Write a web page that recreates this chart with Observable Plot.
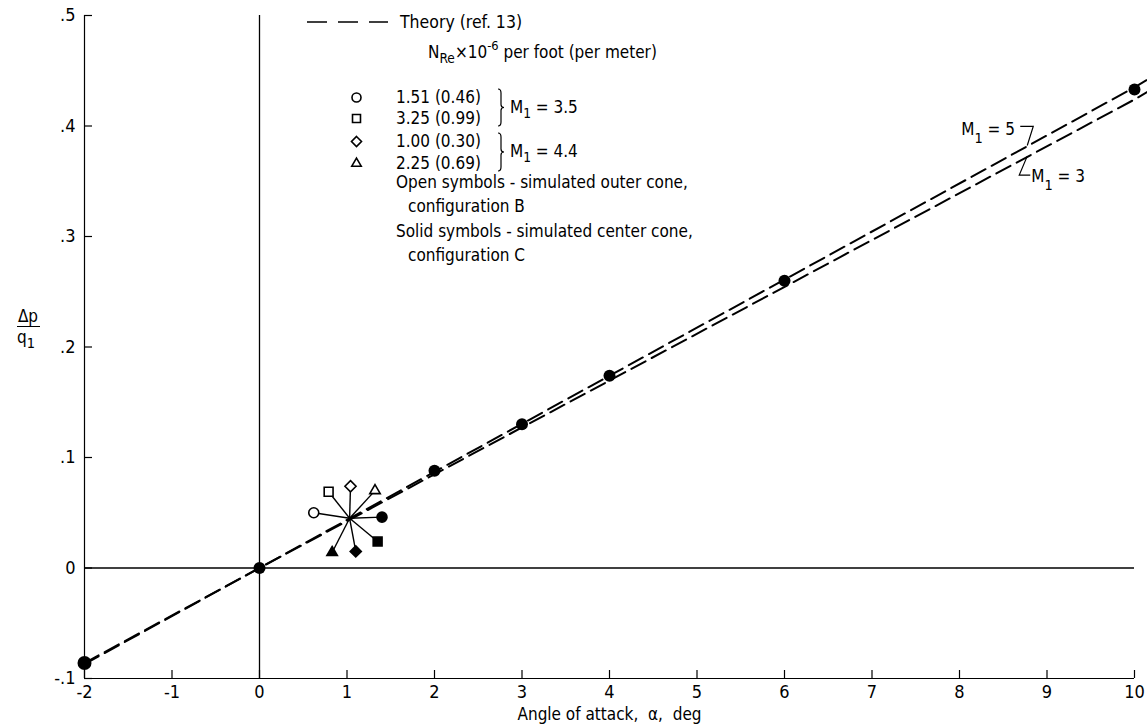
<!DOCTYPE html>
<html><head><meta charset="utf-8">
<script src="https://cdn.jsdelivr.net/npm/d3@7"></script>
<script src="https://cdn.jsdelivr.net/npm/@observablehq/plot@0.6"></script>
<style>
html,body{margin:0;padding:0;background:#fff;}
svg text{white-space:pre;}
</style></head><body><div id="chart"></div>
<script>
const FONT = '"Liberation Sans Narrow","DejaVu Sans Condensed","Roboto Condensed","Liberation Sans",sans-serif';

// axis ticks
const xTicks = [-2,-1,0,1,2,3,4,5,6,7,8,9,10];
const yTicks = [-0.1,0,0.1,0.2,0.3,0.4,0.5];

// solid symbols lying on the theory line
const alphaSolid = [-2,0,2,3,4,6,10];
const dpSolid = [-0.086,0,0.088,0.130,0.174,0.260,0.433];

// theory (ref. 13) curves
const thAlpha = [-2,0,10,10.15];
const thM5 = [-0.087,0,0.435,0.442];
const thM3 = [-0.086,0,0.424,0.431];

// flagged symbols at alpha = 1 deg
const clusterCenterAlpha = 1.03;
const clusterCenterDp = 0.045;
const clusterShape = ["circle","square","diamond2","triangle2","circle","square","diamond2","triangle2"];
const clusterFilled = [false,false,false,false,true,true,true,true];
const clusterAlpha = [0.62,0.79,1.04,1.32,1.40,1.35,1.10,0.83];
const clusterDp = [0.050,0.069,0.074,0.070,0.046,0.024,0.015,0.014];

// legend
const legendShapes = ["circle","square","diamond2","triangle2"];
const legendRe = ["1.51 (0.46)","3.25 (0.99)","1.00 (0.30)","2.25 (0.69)"];
const legendMach = ["3.5","4.4"];

const W = 1147, H = 728, ML = 84, MR = 13, MT = 15, MB = 50;
const PW = W - ML - MR, PH = H - MT - MB;

const solid = alphaSolid.map((a,i)=>({a, v: dpSolid[i]}));
const th5 = thAlpha.map((a,i)=>({a, v: thM5[i]}));
const th3 = thAlpha.map((a,i)=>({a, v: thM3[i]}));
const cluster = clusterAlpha.map((a,i)=>({a, v: clusterDp[i], shape: clusterShape[i], filled: clusterFilled[i]}));

const fmtY = d => d === 0 ? "0" : (d < 0 ? "-" : "") + Math.abs(d).toFixed(1).slice(1);

function interp(xs, ys, x){
  for (let i=0;i<xs.length-1;i++){
    if (x>=xs[i] && x<=xs[i+1]) return ys[i] + (ys[i+1]-ys[i])*(x-xs[i])/(xs[i+1]-xs[i]);
  }
  return ys[ys.length-1];
}

function addText(g, x, y, parts, size=17, anchor="start"){
  const t = g.append("text").attr("x", x).attr("y", y).attr("font-size", size).attr("text-anchor", anchor).attr("fill","black");
  let cur = 0;
  for (const p of parts){
    const [s, shift=0, f=1] = Array.isArray(p) ? p : [p];
    t.append("tspan").attr("dy", shift - cur).attr("font-size", size*f).text(s);
    cur = shift;
  }
  return t;
}

function brace(g, x, y0, y1){
  const ym = (y0+y1)/2;
  g.append("path").attr("fill","none").attr("stroke","black").attr("stroke-width",1.2)
   .attr("d", `M${x},${y0} q3,0 3,4 L${x+3},${ym-3} q0,3 3,3 q-3,0 -3,3 L${x+3},${y1-4} q0,4 -3,4`);
}

const annotations = (index, scales) => {
  const sx = scales.x, sy = scales.y;
  const g = d3.create("svg:g").attr("font-family", FONT);
  // legend: theory sample
  const lx = ML + 223, ly = MT + 7;
  g.append("line").attr("x1", lx).attr("x2", lx+81).attr("y1", ly).attr("y2", ly)
    .attr("stroke","black").attr("stroke-width",1.6).attr("stroke-dasharray","20,11");
  addText(g, lx+93, ly+6, ["Theory (ref. 13)"], 17.5);
  addText(g, lx+121, ly+36, ["N", ["Re",5,0.8], ["×10",0], ["-6",-8,0.75], [" per foot (per meter)",0]]);
  const rowY = [97,118,141,163];
  legendRe.forEach((s,i)=> addText(g, lx+89, rowY[i]+6, [s]));
  brace(g, lx+191, rowY[0]-8, rowY[1]+8);
  brace(g, lx+191, rowY[2]-8, rowY[3]+8);
  addText(g, lx+203, (rowY[0]+rowY[1])/2+5, ["M", ["1",5,0.8], [" = "+legendMach[0],0]]);
  addText(g, lx+203, (rowY[2]+rowY[3])/2+5, ["M", ["1",5,0.8], [" = "+legendMach[1],0]]);
  addText(g, lx+89, 188, ["Open symbols - simulated outer cone,"]);
  addText(g, lx+101, 212, ["configuration B"]);
  addText(g, lx+89, 237, ["Solid symbols - simulated center cone,"]);
  addText(g, lx+101, 261, ["configuration C"]);

  // M1 labels on theory lines
  const aL = 8.78;
  const px = sx(aL), p5 = sy(interp(thAlpha, thM5, aL)), p3 = sy(interp(thAlpha, thM3, aL));
  g.append("path").attr("fill","none").attr("stroke","black").attr("stroke-width",1.2)
    .attr("d", `M${px-7},${p5-19} L${px+6},${p5-19} L${px},${p5}`);
  addText(g, px-66, p5-10, ["M", ["1",8,0.85], [" = 5",0]]);
  g.append("path").attr("fill","none").attr("stroke","black").attr("stroke-width",1.2)
    .attr("d", `M${px},${p3} L${px-8},${p3+19} L${px+3},${p3+19}`);
  addText(g, px+4, p3+26, ["M", ["1",8,0.85], [" = 3",0]]);

  // y-axis label (fraction)
  const fy = sy(0.2);
  addText(g, 28, fy-25, ["Δp"], 17, "middle");
  g.append("line").attr("x1",17).attr("x2",40).attr("y1",fy-20).attr("y2",fy-20).attr("stroke","black").attr("stroke-width",1);
  addText(g, 26, fy-4, ["q", ["1",5,0.85]], 17, "middle");
  return g.node();
};

const marks = [
  Plot.ruleX([-2], {strokeWidth: 1.2}),
  Plot.ruleY([-0.1], {strokeWidth: 1.2}),
  Plot.ruleY([0], {strokeWidth: 1.3}),
  Plot.ruleX([0], {strokeWidth: 1.3}),
  Plot.tickX(xTicks, {x: d=>d, insetTop: PH - 8, strokeWidth: 1.2}),
  Plot.tickY(yTicks, {y: d=>d, insetRight: PW - 8, strokeWidth: 1.2}),
  Plot.axisX({ticks: xTicks, tickSize: 0, tickPadding: 7, tickFormat: d => String(d), label: null}),
  Plot.axisY({ticks: yTicks, tickSize: 0, tickPadding: 9, tickFormat: fmtY, label: null}),
  Plot.text(["Angle of attack,  α,  deg"], {frameAnchor: "bottom", dy: 41, fontSize: 17}),
  Plot.line(th5, {x: "a", y: "v", strokeDasharray: "16,7", strokeWidth: 2}),
  Plot.line(th3, {x: "a", y: "v", strokeDasharray: "16,7", strokeWidth: 2}),
  Plot.link(cluster, {x1: () => clusterCenterAlpha, y1: () => clusterCenterDp, x2: "a", y2: "v", strokeWidth: 1.4}),
  Plot.dot(solid, {x: "a", y: "v", r: d => d.a === -2 ? 7 : 6, fill: "black"}),
];
for (const shape of legendShapes) {
  for (const filled of [false, true]) {
    marks.push(Plot.dot(cluster.filter(d => d.shape === shape && d.filled === filled),
      {x: "a", y: "v", symbol: shape, r: 5, fill: filled ? "black" : "white", stroke: "black", strokeWidth: 1.6}));
  }
}
const legRowY = [97,118,141,163];
legendShapes.forEach((s,i) => {
  marks.push(Plot.dot([0], {frameAnchor: "top-left", dx: 356 - ML, dy: legRowY[i] - MT, symbol: s, r: 4.5, fill: "white", stroke: "black", strokeWidth: 1.6}));
});
marks.push(annotations);

const chart = Plot.plot({
  width: W, height: H,
  marginTop: MT, marginBottom: MB, marginLeft: ML, marginRight: MR,
  x: {domain: [-2, 10]},
  y: {domain: [-0.1, 0.5]},
  r: {type: "identity"},
  style: {fontFamily: FONT, fontSize: "18px", color: "black", background: "white", overflow: "visible"},
  marks
});
document.getElementById("chart").appendChild(chart);
</script></body></html>
